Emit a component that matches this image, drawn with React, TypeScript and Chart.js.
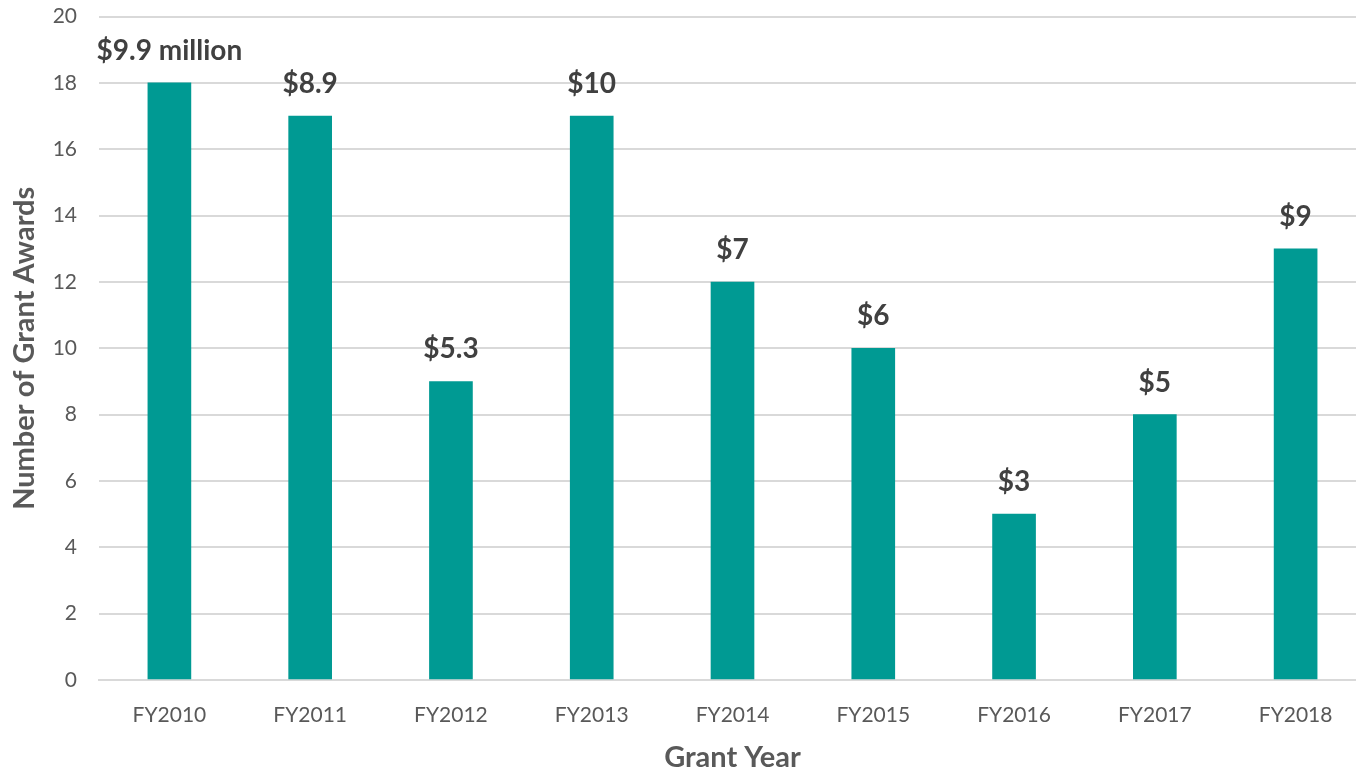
import React, { useEffect, useRef } from "react";
import { Chart, registerables } from "chart.js";

Chart.register(...registerables);

const categories = ["FY2010", "FY2011", "FY2012", "FY2013", "FY2014", "FY2015", "FY2016", "FY2017", "FY2018"];
const awards = [18, 17, 9, 17, 12, 10, 5, 8, 13];
const dollarLabels = ["$9.9 million", "$8.9", "$5.3", "$10", "$7", "$6", "$3", "$5", "$9"];
const yTicks = [0, 2, 4, 6, 8, 10, 12, 14, 16, 18, 20];

const FONT = "Lato, 'Open Sans', sans-serif";

const barLabelPlugin = {
  id: "barLabels",
  afterDatasetsDraw(chart: any) {
    const ctx = chart.ctx;
    const meta = chart.getDatasetMeta(0);
    ctx.save();
    ctx.font = `bold 28px ${FONT}`;
    ctx.fillStyle = "#404040";
    ctx.textAlign = "center";
    ctx.textBaseline = "alphabetic";
    meta.data.forEach((bar: any, i: number) => {
      ctx.fillText(dollarLabels[i], bar.x, bar.y - 23);
    });
    ctx.restore();
  },
};

export default function App() {
  const ref = useRef<HTMLCanvasElement>(null);
  useEffect(() => {
    document.body.style.margin = "0";
    const chart = new Chart(ref.current!, {
      type: "bar",
      data: {
        labels: categories,
        datasets: [
          {
            data: awards,
            backgroundColor: "#009A93",
            barThickness: 43,
          },
        ],
      },
      options: {
        animation: false,
        responsive: false,
        maintainAspectRatio: false,
        layout: { padding: { top: 0, right: 0, left: 0, bottom: 0 } },
        plugins: { legend: { display: false }, tooltip: { enabled: false } },
        scales: {
          x: {
            grid: { display: false, drawTicks: false },
            border: { display: true, color: "#d9d9d9", width: 2 },
            ticks: { color: "#595959", font: { family: FONT, size: 21 }, padding: 23 },
            title: {
              display: true,
              text: "Grant Year",
              color: "#595959",
              font: { family: FONT, size: 29, weight: "bold" },
              padding: { top: 0, bottom: -5 },
            },
            afterFit: (s: any) => {
              s.height = 90;
            },
          },
          y: {
            min: 0,
            max: 20,
            afterBuildTicks: (s: any) => {
              s.ticks = yTicks.map((v) => ({ value: v }));
            },
            grid: { color: "#d9d9d9", lineWidth: 2, drawTicks: false },
            border: { display: false },
            ticks: { color: "#595959", font: { family: FONT, size: 21 }, padding: 22 },
            title: {
              display: true,
              text: "Number of Grant Awards",
              color: "#595959",
              font: { family: FONT, size: 29, weight: "bold" },
              padding: { top: 7, bottom: 0 },
            },
            afterFit: (s: any) => {
              s.width = 99;
            },
          },
        },
      },
      plugins: [barLabelPlugin],
    });
    return () => chart.destroy();
  }, []);
  return (
    <div style={{ width: 1356, height: 770, overflow: "hidden", position: "relative", background: "#fff" }}>
      <canvas
        ref={ref}
        width={1366}
        height={788}
        style={{ display: "block", position: "absolute", left: 0, top: -18 }}
      />
    </div>
  );
}
